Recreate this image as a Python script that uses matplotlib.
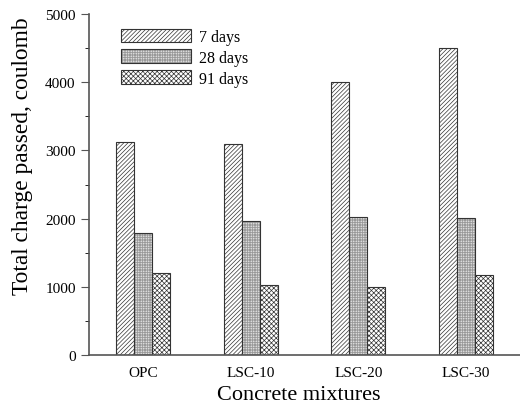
import numpy as np
import matplotlib
matplotlib.use('Agg')
import matplotlib.pyplot as plt
from matplotlib.patches import Patch
from matplotlib.legend_handler import HandlerTuple

# data
mixtures = ['OPC', 'LSC-10', 'LSC-20', 'LSC-30']
days_7 = [3120, 3090, 4010, 4500]
days_28 = [1790, 1960, 2030, 2010]
days_91 = [1200, 1020, 990, 1170]
labels = ['7 days', '28 days', '91 days']

plt.rcParams['font.family'] = ['Liberation Serif', 'DejaVu Serif']
plt.rcParams['hatch.linewidth'] = 0.5

fig = plt.figure(figsize=(5.2, 4.1), dpi=100)
ax = fig.add_axes([0.171, 0.132, 0.829, 0.831])

x = np.arange(len(mixtures))
w = 0.167
series = [days_7, days_28, days_91]
hatches = ['////////', '++++++++++', 'xxxxxxx']
hcolors = ['#333333', '#999999', '#333333']
handles = []
for i, (vals, h, hc, lab) in enumerate(zip(series, hatches, hcolors, labels)):
    # hatch layer, then outline on top
    ax.bar(x + (i - 1) * w, vals, w, color='white', edgecolor=hc,
           hatch=h, linewidth=0)
    ax.bar(x + (i - 1) * w, vals, w, fill=False, edgecolor='#333333',
           linewidth=0.8)
    handles.append((Patch(facecolor='white', edgecolor=hc, hatch=h, linewidth=0),
                    Patch(fill=False, edgecolor='#333333', linewidth=0.8)))

ax.set_xlim(-0.5, 3.5)
ax.set_ylim(0, 5000)
ax.set_xticks(x)
ax.set_xticklabels(mixtures)
ax.set_yticks(np.arange(0, 5001, 1000))
ax.set_yticks(np.arange(500, 5000, 1000), minor=True)
ax.tick_params(axis='both', labelsize=11, color='#555555', direction='out')
ax.tick_params(axis='x', length=0, pad=8)
ax.tick_params(axis='y', which='major', length=6)
ax.tick_params(axis='y', which='minor', length=3)
for s in ['top', 'right']:
    ax.spines[s].set_visible(False)
for s in ['left', 'bottom']:
    ax.spines[s].set_color('#555555')
    ax.spines[s].set_linewidth(1.2)

ax.set_ylabel('Total charge passed, coulomb', fontsize=16.8)
ax.yaxis.set_label_coords(33 / 520, 1 - 156 / 410, transform=fig.transFigure)
ax.set_xlabel('Concrete mixtures', fontsize=16)
ax.xaxis.set_label_coords(299 / 520, 1 - 386 / 410, transform=fig.transFigure)

ax.legend(handles=handles, labels=labels, loc='upper left',
          bbox_to_anchor=(0.04, 1.0), frameon=False, fontsize=11.5,
          handlelength=4.4, handleheight=0.9, labelspacing=0.3,
          handletextpad=0.5, handler_map={tuple: HandlerTuple(ndivide=1, pad=0)})

plt.savefig('out.png', dpi=100)
